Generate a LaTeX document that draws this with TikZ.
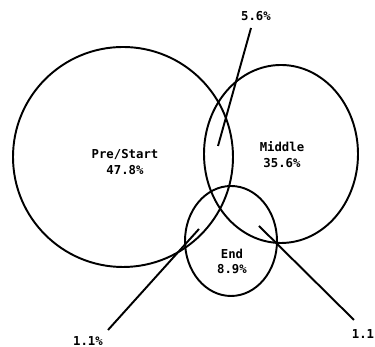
\documentclass[tikz,border=0pt]{standalone}
\usepackage{fontspec}
\newfontfamily\plotfont{DejaVu Sans Mono}
\usetikzlibrary{positioning}

\tikzset{
  ring/.style={line width=1.1pt},
  lead/.style={line width=1.1pt},
  pct/.style={font=\plotfont\bfseries\fontsize{7}{9}\selectfont, align=center, inner sep=1pt}
}

\begin{document}
\begin{tikzpicture}

\useasboundingbox (0,0) rectangle (7.5,6.94);

% Sets
\draw[ring] (2.46,3.80) circle (2.2);
\draw[ring] (5.62,3.86) ellipse (1.54 and 1.78);
\draw[ring] (4.62,2.12) ellipse (0.92 and 1.10);

% Region labels
\node[pct] (pre) at (2.50,3.70) {Pre/Start\\47.8\%};
\node[pct] (mid) at (5.64,3.84) {Middle\\35.6\%};
\node[pct] (end) at (4.64,1.71) {End\\8.9\%};

% Overlap labels
\node[pct] (pm) at (5.12,6.62) {5.6\%};
\node[pct] (pe) at (1.76,0.12) {1.1\%};
\node[pct, anchor=east, inner sep=0pt] (me) at (7.49,0.26) {1.1};

% Leader lines
\coordinate (pmA) at (5.02,6.38);
\coordinate (pmB) at (4.36,4.02);
\coordinate (peA) at (2.16,0.34);
\coordinate (peB) at (3.98,2.36);
\coordinate (meA) at (7.08,0.54);
\coordinate (meB) at (5.18,2.42);

\draw[lead] (pmA) -- (pmB);
\draw[lead] (peA) -- (peB);
\draw[lead] (meA) -- (meB);

\end{tikzpicture}
\end{document}
